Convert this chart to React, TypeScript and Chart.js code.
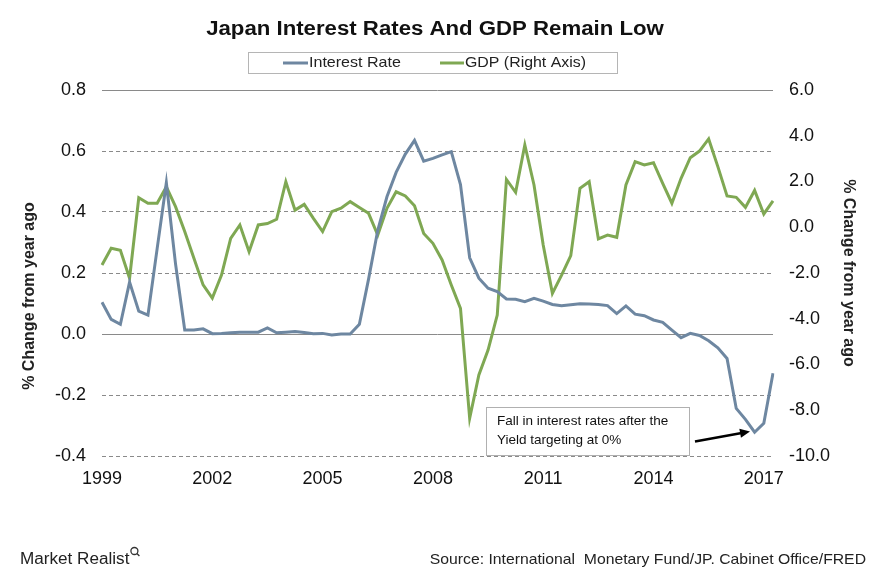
import { useEffect, useRef } from 'react';
import { Chart, registerables } from 'chart.js';

Chart.register(...registerables);

// Quarterly categories 1999 Q1 .. 2017 Q2
const years = [1999, 2000, 2001, 2002, 2003, 2004, 2005, 2006, 2007, 2008, 2009, 2010, 2011, 2012, 2013, 2014, 2015, 2016, 2017];
const quarterNames = ['Q1', 'Q2', 'Q3', 'Q4'];
const categories: string[] = [];
years.forEach((y) => quarterNames.forEach((q) => categories.push(`${y} ${q}`)));
categories.splice(74);

const yearTicks = ['1999', '2002', '2005', '2008', '2011', '2014', '2017'];

const interestRate = [
  0.104, 0.048, 0.032, 0.17, 0.075, 0.062, 0.28, 0.496, 0.23, 0.013,
  0.013, 0.017, 0.001, 0.002, 0.004, 0.006, 0.006, 0.006, 0.02, 0.004,
  0.006, 0.008, 0.005, 0.001, 0.002, -0.003, 0.0, 0.0, 0.032, 0.18,
  0.34, 0.45, 0.53, 0.59, 0.635, 0.567, 0.576, 0.587, 0.598, 0.49,
  0.25, 0.183, 0.15, 0.139, 0.115, 0.114, 0.106, 0.117, 0.108, 0.097,
  0.093, 0.096, 0.099, 0.098, 0.097, 0.093, 0.067, 0.092, 0.065, 0.06,
  0.046, 0.038, 0.013, -0.012, 0.002, -0.005, -0.022, -0.045, -0.08, -0.244,
  -0.28, -0.322, -0.293, -0.129,
];

const gdp = [
  -1.65, -0.92, -1.01, -2.23, 1.29, 1.05, 1.05, 1.77, 0.9, -0.19,
  -1.36, -2.52, -3.1, -2.09, -0.49, 0.1, -1.07, 0.1, 0.16, 0.35,
  1.99, 0.75, 1.0, 0.39, -0.19, 0.68, 0.83, 1.12, 0.86, 0.61,
  -0.34, 0.83, 1.55, 1.37, 0.94, -0.27, -0.7, -1.43, -2.52, -3.55,
  -8.35, -6.46, -5.37, -3.84, 2.09, 1.53, 3.6, 1.85, -0.78, -2.89,
  -2.09, -1.24, 1.7, 1.99, -0.51, -0.34, -0.44, 1.85, 2.87, 2.72,
  2.82, 1.92, 1.05, 2.14, 3.04, 3.33, 3.86, 2.65, 1.37, 1.31,
  0.87, 1.61, 0.58, 1.15,
];

const TITLE = 'Japan Interest Rates And GDP Remain Low';
const SERIES_NAMES = ['Interest Rate', 'GDP (Right Axis)'];
const AXIS_TITLE = '% Change from year ago';
const NOTE_LINES = ['Fall in interest rates after the', 'Yield targeting at 0%'];
const SOURCE = 'Source: International  Monetary Fund/JP. Cabinet Office/FRED';
const BRAND = 'Market Realist';

const BLUE = '#6e87a1';
const GREEN = '#7fa853';
const FONT = '"Liberation Sans", Arial, sans-serif';

function stretchText(
  ctx: CanvasRenderingContext2D,
  text: string,
  x: number,
  y: number,
  font: string,
  align: CanvasTextAlign,
  sx: number,
  rotate = 0,
) {
  ctx.save();
  ctx.font = font;
  ctx.textAlign = align;
  ctx.textBaseline = 'middle';
  ctx.translate(x, y);
  if (rotate) ctx.rotate(rotate);
  ctx.scale(sx, 1);
  ctx.fillText(text, 0, 0);
  const w = ctx.measureText(text).width * sx;
  ctx.restore();
  return w;
}

const decorPlugin = {
  id: 'decor',
  afterDraw(chart: any) {
    const ctx = chart.ctx as CanvasRenderingContext2D;
    ctx.save();
    // Title
    ctx.fillStyle = '#111';
    stretchText(ctx, TITLE, 435, 29, `bold 20px ${FONT}`, 'center', 1.11);

    // Legend box
    ctx.strokeStyle = '#b5b5b5';
    ctx.lineWidth = 1;
    ctx.strokeRect(248.5, 52.5, 369, 21);
    ctx.lineWidth = 3;
    ctx.strokeStyle = BLUE;
    ctx.beginPath();
    ctx.moveTo(283, 63);
    ctx.lineTo(308, 63);
    ctx.stroke();
    ctx.strokeStyle = GREEN;
    ctx.beginPath();
    ctx.moveTo(440, 63);
    ctx.lineTo(464, 63);
    ctx.stroke();
    ctx.fillStyle = '#222';
    stretchText(ctx, SERIES_NAMES[0], 309, 63, `15px ${FONT}`, 'left', 1.07);
    stretchText(ctx, SERIES_NAMES[1], 465, 63, `15px ${FONT}`, 'left', 1.06);

    // Left axis title
    ctx.fillStyle = '#222';
    stretchText(ctx, AXIS_TITLE, 30, 296, `bold 16px ${FONT}`, 'center', 1.0, -Math.PI / 2);

    // Annotation box
    ctx.fillStyle = '#fff';
    ctx.fillRect(486, 407, 203, 48);
    ctx.strokeStyle = '#b0b0b0';
    ctx.lineWidth = 1;
    ctx.strokeRect(486.5, 407.5, 203, 48);
    ctx.fillStyle = '#111';
    stretchText(ctx, NOTE_LINES[0], 497, 421, `13px ${FONT}`, 'left', 1.04);
    stretchText(ctx, NOTE_LINES[1], 497, 440, `13px ${FONT}`, 'left', 1.04);

    // Arrow
    ctx.strokeStyle = '#000';
    ctx.fillStyle = '#000';
    ctx.lineWidth = 2.5;
    const x1 = 695, y1 = 441.5, x2 = 750, y2 = 431.5;
    const ang = Math.atan2(y2 - y1, x2 - x1);
    ctx.beginPath();
    ctx.moveTo(x1, y1);
    ctx.lineTo(x2 - 7 * Math.cos(ang), y2 - 7 * Math.sin(ang));
    ctx.stroke();
    ctx.beginPath();
    ctx.moveTo(x2, y2);
    ctx.lineTo(x2 - 10 * Math.cos(ang) + 4.5 * Math.sin(ang), y2 - 10 * Math.sin(ang) - 4.5 * Math.cos(ang));
    ctx.lineTo(x2 - 10 * Math.cos(ang) - 4.5 * Math.sin(ang), y2 - 10 * Math.sin(ang) + 4.5 * Math.cos(ang));
    ctx.closePath();
    ctx.fill();

    // Footer
    ctx.fillStyle = '#222';
    const bw = stretchText(ctx, BRAND, 20, 560, `16px ${FONT}`, 'left', 1.07);
    ctx.strokeStyle = '#333';
    ctx.lineWidth = 1.3;
    ctx.beginPath();
    ctx.arc(20 + bw + 5, 551, 3.5, 0, Math.PI * 2);
    ctx.stroke();
    ctx.beginPath();
    ctx.moveTo(20 + bw + 7.5, 553.5);
    ctx.lineTo(20 + bw + 10, 556);
    ctx.stroke();
    ctx.fillStyle = '#222';
    stretchText(ctx, SOURCE, 866, 560, `15px ${FONT}`, 'right', 1.05);
    ctx.restore();
  },
};

export default function App() {
  const ref = useRef<HTMLCanvasElement | null>(null);

  useEffect(() => {
    if (!ref.current) return;
    const isSolid = (v: number) => Math.abs(v) < 1e-9 || Math.abs(v - 0.8) < 1e-9;
    const fmt = (v: any) => (Math.abs(Number(v)) < 1e-9 ? '0.0' : Number(v).toFixed(1));
    const chart = new Chart(ref.current, {
      type: 'line',
      data: {
        labels: categories,
        datasets: [
          {
            label: SERIES_NAMES[0],
            data: interestRate,
            borderColor: BLUE,
            backgroundColor: BLUE,
            borderWidth: 3,
            pointRadius: 0,
            tension: 0,
            yAxisID: 'y',
          },
          {
            label: SERIES_NAMES[1],
            data: gdp,
            borderColor: GREEN,
            backgroundColor: GREEN,
            borderWidth: 3,
            pointRadius: 0,
            tension: 0,
            yAxisID: 'y1',
          },
        ],
      },
      options: {
        responsive: false,
        animation: false,
        layout: { padding: { top: 90, left: 0, right: 0, bottom: 0 } },
        plugins: {
          legend: { display: false },
          title: { display: false },
          tooltip: { enabled: false },
        },
        scales: {
          x: {
            type: 'category',
            offset: false,
            grid: { display: false, drawTicks: false },
            border: { display: false },
            afterFit: (s: any) => { s.height = 120; },
            ticks: {
              autoSkip: false,
              maxRotation: 0,
              padding: 12,
              color: '#111',
              font: { size: 18, family: FONT },
              callback: (_v: any, i: number) => {
                const year = categories[i].slice(0, 4);
                return i % 12 === 0 && yearTicks.includes(year) ? year : '';
              },
            },
          },
          y: {
            position: 'left',
            min: -0.4,
            max: 0.8,
            afterFit: (s: any) => { s.width = 102; },
            grid: {
              drawTicks: false,
              color: '#8a8a8a',
              lineWidth: 1,
            },
            border: {
              display: false,
              dash: (c: any) => (c.tick && isSolid(c.tick.value) ? [] : [4, 3]),
            },
            ticks: {
              stepSize: 0.2,
              padding: 16,
              color: '#111',
              font: { size: 18, family: FONT },
              callback: fmt,
            },
          },
          y1: {
            position: 'right',
            min: -10,
            max: 6,
            afterFit: (s: any) => { s.width = 99; },
            grid: { display: false, drawTicks: false },
            border: { display: false },
            ticks: {
              stepSize: 2,
              padding: 16,
              color: '#111',
              font: { size: 18, family: FONT },
              callback: fmt,
            },
            title: {
              display: true,
              text: AXIS_TITLE,
              color: '#222',
              font: { size: 16, weight: 'bold', family: FONT },
              padding: { top: 14, bottom: 0 },
            },
          },
        },
      } as any,
      plugins: [decorPlugin],
    });
    return () => chart.destroy();
  }, []);

  return (
    <div style={{ position: 'fixed', left: 0, top: 0, width: 872, height: 576, background: '#fff' }}>
      <canvas ref={ref} width={872} height={576} style={{ display: 'block', width: 872, height: 576 }} />
    </div>
  );
}
